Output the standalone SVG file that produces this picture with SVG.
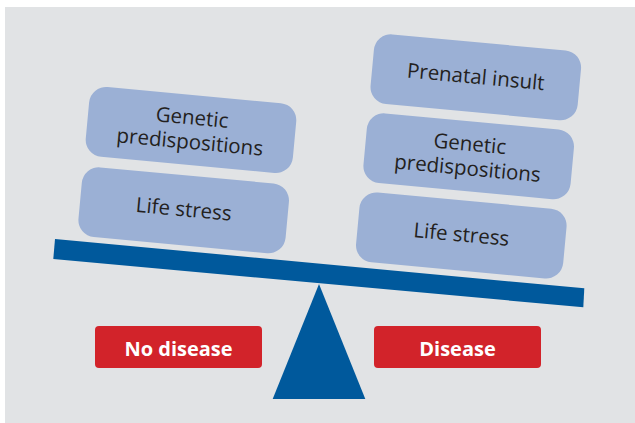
<svg xmlns="http://www.w3.org/2000/svg" width="635" height="423" viewBox="0 0 635 423">
  <style>
    .box { fill: #9bb0d5; }
    .btxt { font-family: "Open Sans", "Noto Sans", sans-serif; font-size: 20.5px; fill: #231f20; text-anchor: middle; }
    .red { fill: #d2232a; }
    .rtxt { font-family: "Open Sans", "Liberation Sans", sans-serif; font-weight: 700; font-size: 20px; fill: #ffffff; text-anchor: middle; }
    .blue { fill: #00599c; }
  </style>
  <defs>
    <rect id="card" x="-104" y="-35" width="208" height="70" rx="17" ry="17"/>
  </defs>
  <rect x="0" y="0" width="635" height="423" fill="#ffffff"/>
  <rect x="5" y="7" width="630" height="416" fill="#e1e3e5"/>

  <g id="connectors">
    <polygon id="beam" class="blue" points="55,239 584.3,288.3 583.3,307.3 53.3,259"/>
    <polygon id="fulcrum" class="blue" points="319,284 365.3,399 272.7,399"/>
  </g>

  <g id="left-genetic" transform="translate(191,130) rotate(5.3)">
    <use href="#card" class="box"/>
    <text class="btxt" x="0" y="-5.5">Genetic</text>
    <text class="btxt" x="0" y="19">predispositions</text>
  </g>
  <g id="left-life" transform="translate(183.7,210.3) rotate(5.3)">
    <use href="#card" class="box"/>
    <text class="btxt" x="0" y="6">Life stress</text>
  </g>

  <g id="right-prenatal" transform="translate(475.8,77.3) rotate(5.3)">
    <use href="#card" class="box"/>
    <text class="btxt" x="0" y="6.5">Prenatal insult</text>
  </g>
  <g id="right-genetic" transform="translate(468.7,156.3) rotate(5.3)">
    <use href="#card" class="box"/>
    <text class="btxt" x="0" y="-5.5">Genetic</text>
    <text class="btxt" x="0" y="19">predispositions</text>
  </g>
  <g id="right-life" transform="translate(461.3,235.5) rotate(5.3)">
    <use href="#card" class="box"/>
    <text class="btxt" x="0" y="6">Life stress</text>
  </g>

  <g id="no-disease">
    <rect class="red" x="95" y="326" width="167" height="42" rx="4" ry="4"/>
    <text class="rtxt" x="178.5" y="356">No disease</text>
  </g>
  <g id="disease">
    <rect class="red" x="374" y="326" width="167" height="42" rx="4" ry="4"/>
    <text class="rtxt" x="457.5" y="356">Disease</text>
  </g>
</svg>
